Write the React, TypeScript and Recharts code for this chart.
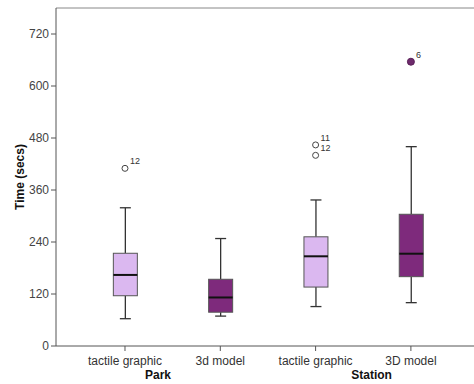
import React from "react";
import {
  Bar,
  ComposedChart,
  ReferenceLine,
  Scatter,
  XAxis,
  YAxis,
} from "recharts";

const CATEGORIES = ["tactile graphic", "3d model", "tactile graphic", "3D model"];
const GROUPS = ["Park", "Park", "Station", "Station"];
const WHISKER_LOW = [63, 69, 91, 100];
const Q1 = [116, 78, 136, 160];
const MEDIAN = [164, 112, 207, 213];
const Q3 = [214, 154, 252, 304];
const WHISKER_HIGH = [319, 248, 337, 460];

const OUTLIER_POS = [1, 3, 3, 4];
const OUTLIER_VALUES = [410, 464, 440, 656];
const OUTLIER_LABELS = ["12", "11", "12", "6"];
const OUTLIER_EXTREME = [false, false, false, true];

const Y_TICKS = [0, 120, 240, 360, 480, 600, 720];

const LIGHT = "#dbb8f0";
const DARK = "#7e2a7c";
const FONT = "'Liberation Sans', Arial, sans-serif";

const boxData = CATEGORIES.map((c, i) => ({
  pos: i + 1,
  category: c,
  group: GROUPS[i],
  range: [Q1[i], Q3[i]],
  low: WHISKER_LOW[i],
  q1: Q1[i],
  median: MEDIAN[i],
  q3: Q3[i],
  high: WHISKER_HIGH[i],
}));

const outlierData = OUTLIER_POS.map((p, i) => ({
  pos: p,
  value: OUTLIER_VALUES[i],
  label: OUTLIER_LABELS[i],
  extreme: OUTLIER_EXTREME[i],
}));

function BoxShape(props: any) {
  const { x, y, width, height, payload } = props;
  const k = height / (payload.q3 - payload.q1);
  const cx = x + width / 2;
  const yHigh = y - (payload.high - payload.q3) * k;
  const yLow = y + height + (payload.q1 - payload.low) * k;
  const yMed = y + (payload.q3 - payload.median) * k;
  const fill = payload.pos % 2 === 1 ? LIGHT : DARK;
  const cap = 5.5;
  return (
    <g>
      <line x1={cx} x2={cx} y1={yHigh} y2={y} stroke="#333" strokeWidth={1.3} />
      <line x1={cx} x2={cx} y1={y + height} y2={yLow} stroke="#333" strokeWidth={1.3} />
      <line x1={cx - cap} x2={cx + cap} y1={yHigh} y2={yHigh} stroke="#333" strokeWidth={1.3} />
      <line x1={cx - cap} x2={cx + cap} y1={yLow} y2={yLow} stroke="#333" strokeWidth={1.3} />
      <rect x={x} y={y} width={width} height={height} fill={fill} stroke="#555" strokeWidth={1} />
      <line x1={x} x2={x + width} y1={yMed} y2={yMed} stroke="#111" strokeWidth={2} />
    </g>
  );
}

function OutlierShape(props: any) {
  const { cx, cy, payload } = props;
  return (
    <g>
      {payload.extreme ? (
        <circle cx={cx} cy={cy} r={3.5} fill="#6e2a6c" stroke="#5a2058" />
      ) : (
        <circle cx={cx} cy={cy} r={3} fill="#fff" stroke="#444" strokeWidth={1} />
      )}
      <text x={cx + 5} y={cy - 4} fontSize={9} fill="#333" fontFamily={FONT}>
        {payload.label}
      </text>
    </g>
  );
}

function CategoryTick(props: any) {
  const { x, y, index } = props;
  // group names sit a bit right of the first box in each cluster, like the SPSS output
  const groupOffset = index === 0 ? 33 : index === 2 ? 56 : 0;
  return (
    <g>
      <text x={x} y={y + 12} textAnchor="middle" fontSize={12} fill="#333" fontFamily={FONT}>
        {CATEGORIES[index]}
      </text>
      {index % 2 === 0 && (
        <text
          x={x + groupOffset}
          y={y + 26}
          textAnchor="middle"
          fontSize={12}
          fontWeight="bold"
          fill="#111"
          fontFamily={FONT}
        >
          {GROUPS[index]}
        </text>
      )}
    </g>
  );
}

export default function App() {
  return (
    <div
      style={{
        position: "absolute",
        left: 0,
        top: 0,
        width: 474,
        height: 384,
        overflow: "hidden",
        background: "#fff",
      }}
    >
      <ComposedChart
        width={482}
        height={384}
        data={boxData}
        margin={{ top: 8, right: 0, bottom: 0, left: 0 }}
      >
        <XAxis
          dataKey="pos"
          type="number"
          domain={[0.276, 4.746]}
          allowDataOverflow
          ticks={[1, 2, 3, 4]}
          tick={<CategoryTick />}
          tickSize={5}
          height={38}
          stroke="#555"
          interval={0}
        />
        <YAxis
          type="number"
          domain={[0, 780]}
          ticks={Y_TICKS}
          width={56}
          tickSize={5}
          stroke="#555"
          tick={{ fontSize: 12, fill: "#444", fontFamily: FONT }}
          label={{
            value: "Time (secs)",
            angle: -90,
            position: "insideLeft",
            offset: 20,
            style: { fontSize: 12, fontWeight: "bold", fill: "#111", fontFamily: FONT, textAnchor: "middle" },
          }}
        />
        <ReferenceLine y={780} stroke="#888" strokeWidth={1} />
        <Bar dataKey="range" barSize={24} shape={<BoxShape />} isAnimationActive={false} />
        <Scatter
          data={outlierData}
          dataKey="value"
          shape={<OutlierShape />}
          isAnimationActive={false}
        />
      </ComposedChart>
    </div>
  );
}
